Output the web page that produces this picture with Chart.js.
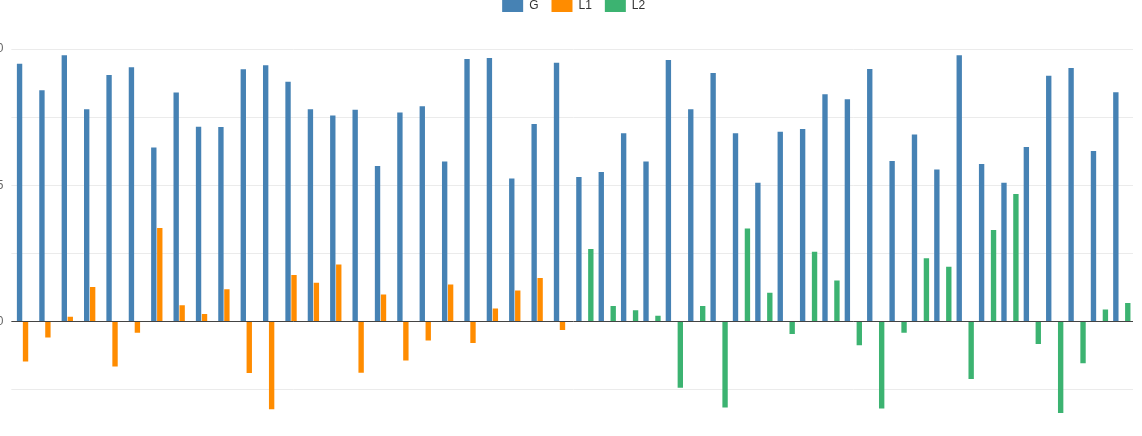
<!DOCTYPE html>
<html>
<head>
<meta charset="utf-8">
<script src="https://cdn.jsdelivr.net/npm/chart.js@4"></script>
<style>
  html, body { margin: 0; padding: 0; background: #fff; overflow: hidden; width: 1142px; height: 436px; }
  #wrap { position: absolute; left: -18px; top: -13px; width: 1160px; height: 486px; }
</style>
</head>
<body>
<div id="wrap"><canvas id="c" width="1160" height="486"></canvas></div>
<script>
const categories = ['1','2','3','4','5','6','7','8','9','10','11','12','13','14','15','16','17','18','19','20','21','22','23','24','25','26','27','28','29','30','31','32','33','34','35','36','37','38','39','40','41','42','43','44','45','46','47','48','49','50'];
const seriesG = [9.46, 8.49, 9.77, 7.79, 9.05, 9.33, 6.39, 8.40, 7.15, 7.14, 9.26, 9.40, 8.80, 7.79, 7.56, 7.77, 5.71, 7.67, 7.90, 5.87, 9.63, 9.67, 5.25, 7.25, 9.50,
                 5.30, 5.49, 6.91, 5.87, 9.60, 7.79, 9.12, 6.91, 5.09, 6.96, 7.06, 8.34, 8.16, 9.27, 5.89, 6.86, 5.58, 9.77, 5.78, 5.09, 6.40, 9.02, 9.30, 6.26, 8.41];
const seriesL1 = [-1.47, -0.59, 0.18, 1.27, -1.65, -0.41, 3.43, 0.60, 0.28, 1.18, -1.89, -3.22, 1.71, 1.42, 2.09, -1.88, 0.99, -1.43, -0.70, 1.36, -0.79, 0.48, 1.14, 1.60, -0.31,
                  null, null, null, null, null, null, null, null, null, null, null, null, null, null, null, null, null, null, null, null, null, null, null, null, null];
const seriesL2 = [null, null, null, null, null, null, null, null, null, null, null, null, null, null, null, null, null, null, null, null, null, null, null, null, null,
                  2.66, 0.57, 0.41, 0.21, -2.43, 0.57, -3.15, 3.41, 1.06, -0.46, 2.56, 1.51, -0.87, -3.19, -0.41, 2.32, 2.01, -2.11, 3.36, 4.68, -0.82, -3.36, -1.53, 0.44, 0.68];
const yMin = -5, yMax = 10, yStep = 2.5;

new Chart(document.getElementById('c'), {
  type: 'bar',
  data: {
    labels: categories,
    datasets: [
      { label: 'G', data: seriesG, backgroundColor: '#4682b4', borderWidth: 0 },
      { label: 'L1', data: seriesL1, backgroundColor: '#ff8c00', borderWidth: 0 },
      { label: 'L2', data: seriesL2, backgroundColor: '#3cb371', borderWidth: 0 }
    ]
  },
  options: {
    responsive: false,
    animation: false,
    layout: { padding: { right: 9, bottom: 0, left: 0, top: 0 } },
    plugins: {
      legend: {
        position: 'top',
        fullSize: false,
        labels: { boxWidth: 21, boxHeight: 12, padding: 13, color: '#333', font: { size: 12 } }
      },
      tooltip: { enabled: false }
    },
    scales: {
      x: {
        grid: { display: false },
        border: { display: false },
        ticks: { display: false }
      },
      xTop: {
        type: 'category',
        position: 'top',
        grid: { display: false },
        border: { display: false },
        ticks: { display: false },
        afterFit: (a) => { a.height = 27; }
      },
      y: {
        min: yMin, max: yMax,
        border: { display: false },
        ticks: {
          stepSize: yStep, color: '#666', padding: 8, font: { size: 12 },
          callback: (v) => (v % 5 === 0 ? String(v) : '')
        },
        grid: {
          tickLength: 3,
          color: (ctx) => (ctx.tick && ctx.tick.value === 0 ? '#444' : '#ebebeb'),
          lineWidth: 1
        }
      }
    }
  }
});
</script>
</body>
</html>
